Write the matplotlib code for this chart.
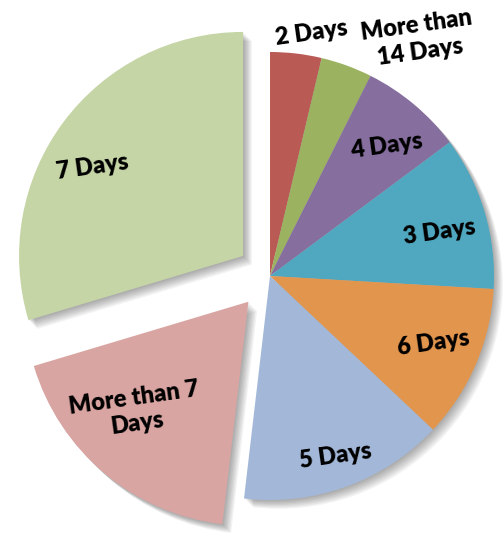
import numpy as np
import matplotlib.pyplot as plt
from matplotlib.patches import Shadow

# data (counts, clockwise from 12 o'clock)
labels = ['2 Days', 'More than\n14 Days', '4 Days', '3 Days', '6 Days', '5 Days',
          'More than 7\nDays', '7 Days']
counts = [1, 1, 2, 3, 3, 4, 5, 8]
colors = ['#B95A55', '#9BB260', '#866E9E', '#4FA8C0', '#E2954D', '#A3B8D8',
          '#D9A5A2', '#C5D5A6']
explode = [0, 0, 0, 0, 0, 0, 0.15, 0.15]

# label placement (fraction of radius, angle tweak in degrees, ccw)
lab_dist = [1.10, 1.25, 0.78, 0.78, 0.79, 0.855, 0.70, 0.78]
lab_turn = [-3, -12, -2, -2, 1, 0, -6, 6]

W, H = 503, 534
fig = plt.figure(figsize=(W / 100, H / 100), dpi=100)
ax = fig.add_axes([0, 0, 1, 1])

R = 224
cx, cy = 270, H - 276
# pie explode is in data units, so scale it by the radius
wedges, _ = ax.pie(counts, colors=colors, explode=[e * R for e in explode],
                   startangle=90, counterclock=False, radius=R, center=(cx, cy),
                   wedgeprops=dict(linewidth=0))

# soft drop shadow
for w in wedges:
    w.set_zorder(3)
    for k in range(1, 8):
        s = Shadow(w, k * 0.9, -k * 0.9, facecolor='#000000', alpha=0.05,
                   linewidth=0)
        s.set_zorder(2)
        ax.add_patch(s)

for w, lab, d, t in zip(wedges, labels, lab_dist, lab_turn):
    ang = np.deg2rad((w.theta1 + w.theta2) / 2 + t)
    x0, y0 = w.center
    ax.text(x0 + d * R * np.cos(ang), y0 + d * R * np.sin(ang), lab,
            ha='center', va='center', rotation=8, fontsize=17,
            fontweight='heavy', family='Lato', linespacing=1.25, zorder=5)

ax.set_xlim(0, W)
ax.set_ylim(0, H)
ax.set_aspect('equal')
ax.axis('off')
fig.savefig('out.png', dpi=100)
